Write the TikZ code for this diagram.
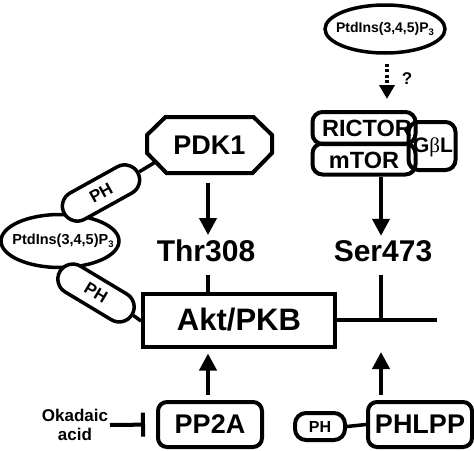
\documentclass[tikz,border=0pt]{standalone}
\usepackage{fontspec}
\setmainfont{Liberation Sans}
\newfontfamily\greekserif{Liberation Serif}
\usetikzlibrary{arrows.meta,shapes.misc,shapes.geometric,calc}
\begin{document}
\begin{tikzpicture}[x=1pt,y=-1pt,
  fs/.style={font={\bfseries\fontsize{#1}{#1}\selectfont}},
  rbox/.style={draw,line width=4pt,rounded corners=9pt,inner sep=0pt,fill=white},
  caps/.style={draw,line width=3.5pt,rounded rectangle,inner sep=0pt,fill=white,minimum width=84pt,minimum height=30pt,fs=17},
  oval/.style={draw,line width=3.5pt,ellipse,inner sep=0pt,fill=white},
  arr/.style={line width=4pt,-{Triangle[length=17pt,width=17pt]}},
  txt/.style={inner sep=0pt,anchor=base}
]
\useasboundingbox (0,0) rectangle (474,450);

% Akt box
\node[draw,line width=4pt,minimum width=192pt,minimum height=53pt,inner sep=0pt,fs=31] (akt) at (239,320) {Akt/PKB};

% PDK1 octagon
\node[inner sep=0pt,fs=27,minimum width=125pt,minimum height=56pt] (pdk) at (209.5,145) {PDK1};
\draw[line width=4pt,line join=miter]
  ($(pdk.center)+(-62.5,-10)$) -- ($(pdk.center)+(-44,-28)$) -- ($(pdk.center)+(44,-28)$) --
  ($(pdk.center)+(62.5,-10)$) -- ($(pdk.center)+(62.5,8)$) -- ($(pdk.center)+(43,28)$) --
  ($(pdk.center)+(-43,28)$) -- ($(pdk.center)+(-62.5,8)$) -- cycle;
\coordinate (pdkc) at ($(pdk.center)+(-54,17)$);

% Thr308 / Ser473
\node[txt,fs=30] (thr) at (206,261) {Thr308};
\node[txt,fs=30] (ser) at (383,261) {Ser473};

\draw[arr,shorten <=10pt,shorten >=4pt] (pdk.south -| 208,0) -- (thr.north -| 208,0);
\coordinate (thrt) at (208,275);
\draw[line width=3.5pt] (thrt) -- (thrt |- akt.north);

\coordinate (sert) at (381,275);
\coordinate (serj) at (381,320);
\coordinate (lineend) at (437,320);
\draw[line width=3.5pt] (akt.east) -- (lineend);
\draw[line width=3.5pt] (sert) -- (serj);

% right top
\node[oval,minimum width=120pt,minimum height=48pt] (ptdtop) at (385,29) {};
\node[fs=14,inner sep=0pt] (ptdtoptxt) at (ptdtop.center) {PtdIns(3,4,5)P\raisebox{-0.35ex}{\fontsize{9.5}{9.5}\selectfont 3}};
\node[fs=17,inner sep=0pt] (q) at (407,79) {?};

\node[rbox,fill=none,minimum width=47pt,minimum height=48pt,rounded corners=10pt] (gbl) at (432,146) {};
\node[inner sep=0pt,fs=21] (gbltxt) at (433,147) {G{\greekserif\mdseries β}L};
\node[rbox,fill=none,minimum width=103pt,minimum height=32pt,rounded corners=10pt] (rictor) at (364,128) {};
\node[inner sep=0pt,fs=23.5] (rictortxt) at (367,128.5) {RICTOR};
\node[rbox,fill=none,minimum width=103pt,minimum height=31pt,rounded corners=10pt] (mtor) at (364,159) {};
\node[inner sep=0pt,fs=23.5] (mtortxt) at (364,160) {mTOR};

\draw[line width=3.5pt,dash pattern=on 3pt off 2.5pt,shorten <=9pt,shorten >=11pt,
  -{Triangle[length=14pt,width=15pt]}] (ptdtop.south -| 387,0) -- (rictor.north -| 387,0);

\draw[arr,shorten >=4pt] (mtor.south -| sert) -- (ser.north -| sert);

% left side
\node[oval,minimum width=118pt,minimum height=53pt] (ptdleft) at (60,241) {};
\node[fs=14.5,inner sep=0pt] (ptdlefttxt) at (63,241) {PtdIns(3,4,5)P\raisebox{-0.35ex}{\fontsize{9.5}{9.5}\selectfont 3}};
\node[caps,rotate=29] (ph1) at (101,193) {PH};
\node[caps,rotate=-31] (ph2) at (96,293) {PH};
\draw[line width=3.5pt] (ph1.east) -- (pdkc);
\draw[line width=3.5pt] (ph2.east) -- (akt.west |- 0,321);

% bottom
\node[rbox,minimum width=104pt,minimum height=45pt,fs=27] (pp2a) at (210,424.5) {PP2A};
\node[rbox,minimum width=104pt,minimum height=45pt,fs=27] (phlpp) at (420,424.5) {PHLPP};
\node[rbox,rounded corners=11pt,minimum width=50pt,minimum height=27pt,fs=16] (ph3) at (320,426.5) {PH};
\draw[line width=3.5pt] (ph3.east) -- (phlpp.west);

\draw[arr,shorten <=5pt,shorten >=5pt] (pp2a.north -| 208,0) -- (akt.south -| 208,0);
\draw[arr,shorten <=5pt,shorten >=32pt] (phlpp.north -| serj) -- (serj);

\node[fs=17,align=center,inner sep=0pt] (oka) at (75,425) {Okadaic\\[2pt]acid};
\draw[line width=4pt,-{Bar[width=24pt,line width=4pt]},shorten >=11pt] (oka.east -| 110,0) -- (pp2a.west);
\end{tikzpicture}
\end{document}
